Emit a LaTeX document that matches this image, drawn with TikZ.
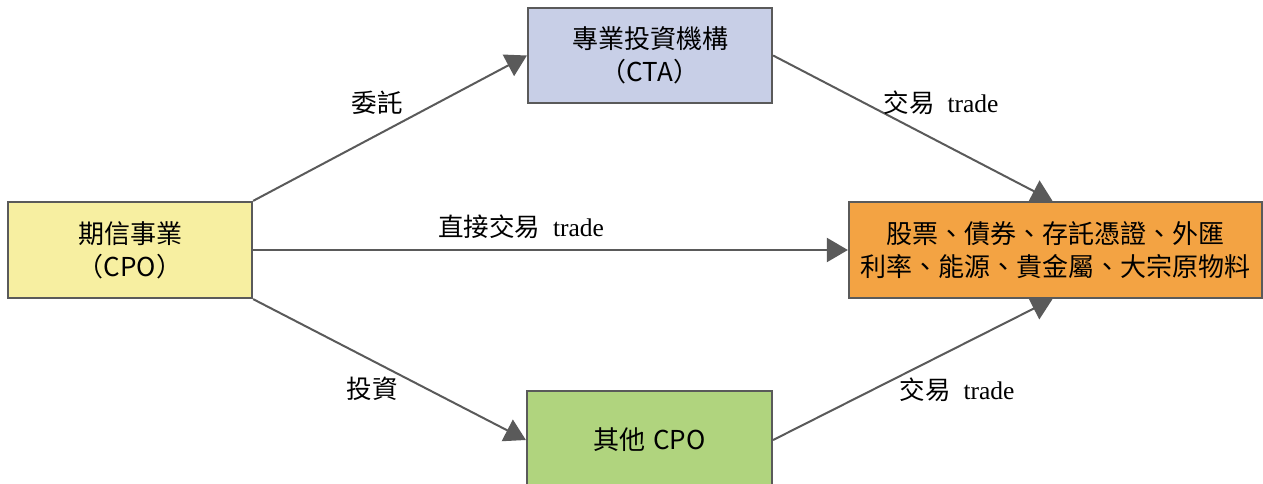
\documentclass[tikz,border=0pt]{standalone}
\usepackage{fontspec}
\setmainfont{Liberation Serif}
\newfontfamily\cjk{Noto Sans CJK TC}
\usetikzlibrary{arrows.meta}
\definecolor{edgegray}{HTML}{5A5A5A}
\definecolor{cpofill}{HTML}{F7EFA1}
\definecolor{ctafill}{HTML}{C8CFE7}
\definecolor{assetfill}{HTML}{F3A343}
\definecolor{otherfill}{HTML}{B0D47E}
\newcommand{\gapsp}{\hspace{13pt}}
\tikzset{
  box/.style={draw=edgegray, line width=2.2pt, inner sep=0pt, align=center,
    font=\cjk\fontsize{26}{33}\selectfont, text=black},
  conn/.style={draw=edgegray, line width=2pt,
    -{Triangle[length=21pt, width=24pt]}},
  lbl/.style={inner sep=0pt, font=\fontsize{25.5}{30}\selectfont, text=black}
}
\begin{document}
\begin{tikzpicture}[x=1pt,y=-1pt]
\useasboundingbox (0,0) rectangle (1263,484);
\clip (0,0) rectangle (1263,484);
\node[box, fill=cpofill, minimum width=244pt, minimum height=96pt] (cpo) at (130,250) {期信事業\\（CPO）};
\node[box, fill=ctafill, minimum width=244pt, minimum height=95pt] (cta) at (650,55.5) {專業投資機構\\（CTA）};
\node[box, fill=assetfill, minimum width=413pt, minimum height=96pt] (assets) at (1055.5,250) {股票、債券、存託憑證、外匯\\利率、能源、貴金屬、大宗原物料};
\node[box, fill=otherfill, minimum width=245pt, minimum height=98pt] (other) at (649.5,440) {其他\hspace{8pt}CPO};

\draw[conn] (cpo.north east) -- (cta.west);
\draw[conn] (cta.east) -- ([xshift=-3pt]assets.north);
\draw[conn] (cpo.east) -- (assets.west);
\draw[conn] (cpo.south east) -- (other.west);
\draw[conn] (other.east) -- ([xshift=-3pt]assets.south);

\node[lbl] (l1) at (377,103) {\cjk 委託};
\node[lbl] (l2) at (521,227) {{\cjk 直接交易}\gapsp trade};
\node[lbl] (l3) at (941,103) {{\cjk 交易}\gapsp trade};
\node[lbl] (l4) at (372,389) {\cjk 投資};
\node[lbl] (l5) at (957,390) {{\cjk 交易}\gapsp trade};
\end{tikzpicture}
\end{document}
